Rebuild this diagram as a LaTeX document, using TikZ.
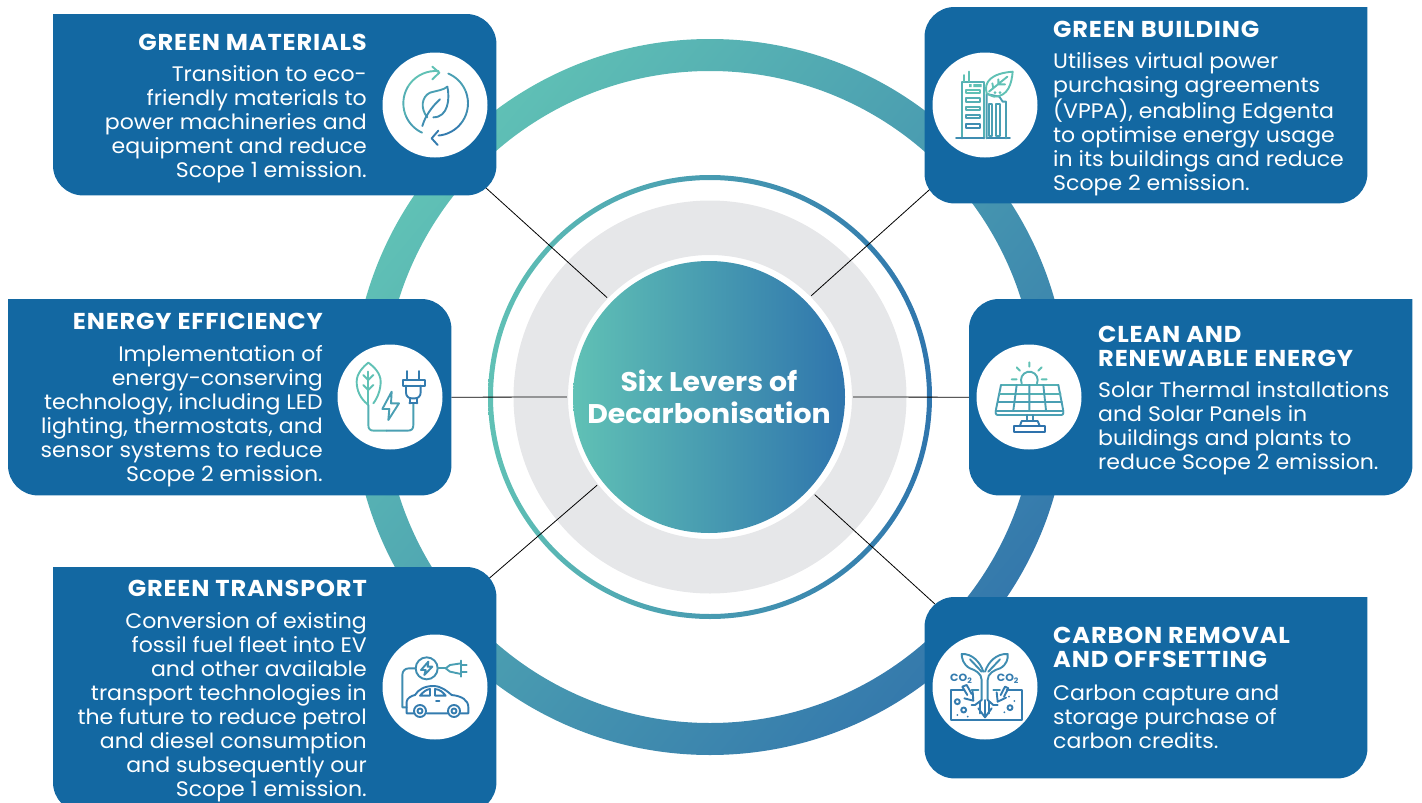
\documentclass[tikz,border=0pt]{standalone}
\usepackage{fontspec}
\setmainfont{Poppins}[FakeStretch=1.05]
\usetikzlibrary{calc}
\definecolor{boxblue}{HTML}{1368A2}
\definecolor{greyring}{HTML}{E6E7E9}
\definecolor{tealc}{HTML}{60C1B5}
\definecolor{bluec}{HTML}{2F75AD}
\definecolor{ringend}{HTML}{3478AC}
\definecolor{iA}{HTML}{60C1B5}
\definecolor{iB}{HTML}{55B0B4}
\definecolor{iC}{HTML}{4A9FB3}
\definecolor{iD}{HTML}{3F8DB1}
\definecolor{iE}{HTML}{347CAF}
\definecolor{iF}{HTML}{2E72AC}
\newcommand{\ttlf}{\bfseries\fontsize{23}{24}\selectfont\addfontfeatures{LetterSpace=3.5}}
\newcommand{\fl}{\rule{0pt}{20pt}}
\newcommand{\ringarc}[6]{\draw[icon,#6] plot[domain=#4:#5,samples=10,smooth] ({#1+#3*cos(\x)},{#2-#3*sin(\x)});}
\tikzset{
  leader/.style={draw=black,line width=0.8pt},
  boxanchor/.style={rectangle,inner sep=0pt,anchor=north west},
  boxfill/.style={fill=boxblue,rounded corners=30pt},
  lvtext/.style={text=white,inner sep=0pt,font=\fontsize{21}{24}\selectfont},
  lvright/.style={lvtext,align=right,anchor=north east},
  lvleft/.style={lvtext,align=left,anchor=north west},
  badge/.style={circle,fill=white,minimum size=105pt,inner sep=0pt},
  icon/.style={line width=1.9pt,line cap=round,line join=round},
  zoomed/.style={x=0.33333pt,y=-0.33333pt}
}
\begin{document}
\begin{tikzpicture}[x=1pt,y=-1pt]
\useasboundingbox (0,0) rectangle (1422,803);
\clip (0,0) rectangle (1422,803);
% rings
\shade[even odd rule,left color=tealc,right color=ringend,shading angle=50]
  (710,397) circle[radius=358pt] (710,397) circle[radius=326pt];
\shade[even odd rule,left color=tealc,right color=bluec]
  (710,397) circle[radius=222pt] (710,397) circle[radius=217pt];
\fill[greyring,even odd rule] (710,397) circle[radius=196.5pt] (710,397) circle[radius=142pt];
\node[circle,minimum size=272pt,inner sep=0pt,left color=tealc,right color=bluec,
      text=white,align=center,font=\bfseries\fontsize{27}{32}\selectfont] (disc) at (709,397)
      {Six Levers of\\Decarbonisation};
\node[circle,minimum size=286pt,inner sep=0pt] (hub) at (710,397) {};
% box anchors
\node[boxanchor,minimum width=443pt,minimum height=181pt] (gm) at (53,14) {};
\node[boxanchor,minimum width=442.5pt,minimum height=196pt] (gb) at (924.5,7) {};
\node[boxanchor,minimum width=443pt,minimum height=196pt] (ee) at (8,299) {};
\node[boxanchor,minimum width=443pt,minimum height=196pt] (cr) at (969,299) {};
\node[boxanchor,minimum width=443pt,minimum height=245pt] (gt) at (53,567) {};
\node[boxanchor,minimum width=442.5pt,minimum height=181pt] (co) at (924.5,597) {};
% connectors
\draw[leader] ([shift={(-11,-8)}]gm.south east) -- (hub.136);
\draw[leader] ([shift={(7.5,-16)}]gb.south west) -- (hub.45);
\draw[leader] (ee.east) -- (hub.180);
\draw[leader] (cr.west) -- (hub.0);
\draw[leader] ([shift={(-8,12)}]gt.north east) -- (hub.218);
\draw[leader] ([shift={(11.5,8)}]co.north west) -- (hub.-43);
% boxes
\fill[boxfill] (gm.north west) -- (gm.north east) -- (gm.south east) -- (gm.south west) -- (gm.north west);
\fill[boxfill] (gb.north east) -- (gb.south east) -- (gb.south west) -- (gb.north west) -- (gb.north east);
\fill[boxfill] (ee.north west) -- (ee.north east) -- (ee.south east) -- (ee.south west) -- (ee.north west);
\fill[boxfill] (cr.north east) -- (cr.south east) -- (cr.south west) -- (cr.north west) -- (cr.north east);
\fill[boxfill] (gt.north west) -- (gt.north east) -- (gt.south east) -- (gt.south west) -- (gt.north west);
\fill[boxfill] (co.north east) -- (co.south east) -- (co.south west) -- (co.north west) -- (co.north east);
% badges
\node[badge] (bgm) at (435,105) {};
\node[badge] (bgb) at (985,105) {};
\node[badge] (bee) at (390,397) {};
\node[badge] (bcr) at (1029,397) {};
\node[badge] (bgt) at (435,687) {};
\node[badge] (bco) at (985,687) {};
% texts
\node[lvright] (tgm) at (367,30) {\fl{\ttlf GREEN MATERIALS}\\[7pt]Transition to eco-\\friendly materials to\\power machineries and\\equipment and reduce\\Scope 1 emission.};
\node[lvleft] (tgb) at (1053,17.5) {\fl{\ttlf GREEN BUILDING}\\[6.5pt]Utilises virtual power\\purchasing agreements\\(VPPA), enabling Edgenta\\to optimise energy usage\\in its buildings and reduce\\Scope 2 emission.};
\node[lvright] (tee) at (323,309) {\fl{\ttlf ENERGY EFFICIENCY}\\[8pt]Implementation of\\energy-conserving\\technology, including LED\\lighting, thermostats, and\\sensor systems to reduce\\Scope 2 emission.};
\node[lvleft] (tcr) at (1098,322) {\fl{\ttlf CLEAN AND}\\{\ttlf RENEWABLE ENERGY}\\[7pt]Solar Thermal installations\\and Solar Panels in\\buildings and plants to\\reduce Scope 2 emission.};
\node[lvright] (tgt) at (367,576) {\fl{\ttlf GREEN TRANSPORT}\\[8pt]Conversion of existing\\fossil fuel fleet into EV\\and other available\\transport technologies in\\the future to reduce petrol\\and diesel consumption\\and subsequently our\\Scope 1 emission.};
\node[lvleft] (tco) at (1053,623) {\fl{\ttlf CARBON REMOVAL}\\{\ttlf AND OFFSETTING}\\[9pt]Carbon capture and\\storage purchase of\\carbon credits.};
% icon 1: recycling leaf
\begin{scope}[shift={(370,40)},zoomed]
\ringarc{197}{190}{97}{85}{150}{iA}
\ringarc{197}{190}{97}{150}{205}{iB}
\ringarc{197}{190}{97}{205}{245}{iC}
\draw[icon,iA] (187,80) -- (208,98) -- (187,118);
\ringarc{197}{190}{97}{67}{20}{iC}
\ringarc{197}{190}{97}{20}{-40}{iD}
\ringarc{197}{190}{97}{-40}{-85}{iE}
\draw[icon,iE] (205,272) -- (185,295) -- (203,315);
\draw[icon,iC] (172,232) .. controls (150,205) and (155,170) .. (180,158) .. controls (200,152) and (222,150) .. (232,140);
\draw[icon,iD] (232,140) .. controls (240,175) and (235,232) .. (190,232);
\draw[icon,iD] (157,258) .. controls (165,230) and (185,200) .. (210,178);
\end{scope}
% icon 2: green building
\begin{scope}[shift={(920,40)},zoomed]
\draw[icon,iB] (192,295) -- (192,125) -- (125,125) -- (125,295);
\draw[icon,iA] (147,95) -- (147,125) (133,105) -- (133,125);
\fill[iA] (160,132) rectangle (185,141) (147,132) rectangle (155,141);
\draw[icon,iA] (137,150) rectangle (180,160);
\draw[icon,iB] (137,175) rectangle (180,185);
\draw[icon,iB] (137,200) rectangle (180,210);
\draw[icon,iC] (137,225) rectangle (180,235);
\draw[icon,iD] (137,251) rectangle (180,265);
\draw[icon,iD] (108,295) -- (192,295) (200,295) -- (270,295);
\draw[icon,iC] (200,295) -- (200,162) -- (238,170) -- (248,185) -- (258,185) -- (258,295);
\draw[icon,iC] (207,193) rectangle (217,288);
\draw[icon,iC] (227,193) rectangle (240,288);
\draw[icon,iA] (200,160) .. controls (190,125) and (215,100) .. (278,95) .. controls (275,130) and (265,170) .. (222,170) .. controls (215,168) and (208,165) .. (200,160);
\draw[icon,iA] (207,155) -- (262,110) (235,133) -- (235,118) (220,145) -- (217,130) (235,133) -- (255,133);
\fill[iA] (225,158) circle[radius=1.5pt] (240,158) circle[radius=1.5pt];
\end{scope}
% icon 3: leaf and plug
\begin{scope}[shift={(330,335)},zoomed]
\draw[icon,iA] (113,208) .. controls (90,190) and (80,165) .. (80,140) .. controls (80,115) and (100,95) .. (115,83) .. controls (132,95) and (152,115) .. (152,140) .. controls (152,165) and (142,190) .. (130,205);
\draw[icon,iA] (115,110) -- (115,210);
\draw[icon,iB] (115,210) -- (115,270) .. controls (115,282) and (120,287) .. (132,287) -- (170,287);
\draw[icon,iC] (170,287) -- (232,287) .. controls (245,287) and (250,282) .. (250,270) -- (250,205);
\draw[icon,iA] (100,120) -- (115,135) -- (130,120) (100,150) -- (115,165) -- (130,150);
\draw[icon,iC] (185,170) -- (157,222) -- (178,222) -- (175,255) -- (207,205) -- (183,205) -- cycle;
\draw[icon,iE] (232,108) -- (232,135) (268,108) -- (268,135);
\draw[icon,iE] (220,135) rectangle (285,152);
\draw[icon,iE] (228,152) -- (228,172) .. controls (228,183) and (235,190) .. (245,190) -- (255,190) .. controls (265,190) and (272,183) .. (272,172) -- (272,152);
\draw[icon,iE] (240,190) -- (240,205) (260,190) -- (260,205) (238,205) -- (262,205);
\end{scope}
% icon 4: solar panel
\begin{scope}[shift={(965,335)},zoomed]
\ringarc{193}{135}{25}{-25}{205}{iB}
\draw[icon,iA] (193,82) -- (193,95) (155,97) -- (165,107) (230,97) -- (220,107) (140,133) -- (155,133) (230,133) -- (245,133);
\draw[icon,iB,rounded corners=2pt] (108,150) -- (280,150);
\draw[icon,iC,rounded corners=2pt] (108,150) -- (92,228) -- (92,240) -- (295,240) -- (295,228) -- (280,150);
\draw[icon,iC] (92,228) -- (295,228);
\draw[icon,iB] (103,176) -- (287,176);
\draw[icon,iC] (99,200) -- (291,200);
\draw[icon,iC] (155,150) -- (145,226) (193,150) -- (193,226) (235,150) -- (243,226);
\draw[icon,iD] (185,240) -- (185,258) (203,240) -- (203,258);
\draw[icon,iE] (165,272) -- (170,258) -- (218,258) -- (224,272);
\draw[icon,iF] (148,272) rectangle (240,290);
\end{scope}
% icon 5: electric car
\begin{scope}[shift={(375,630)},zoomed]
\draw[icon,iD] (155,115) circle[radius=11pt];
\draw[icon,iD] (160,95) -- (138,120) -- (152,120) -- (148,135) -- (172,110) -- (158,110) -- cycle;
\draw[icon,iD] (122,115) -- (102,115) .. controls (90,115) and (82,123) .. (82,135) -- (82,232) -- (95,232);
\draw[icon,iC] (188,115) -- (212,115);
\draw[icon,iC] (212,115) -- (225,105) -- (258,100) -- (258,132) -- (225,125) -- cycle;
\draw[icon,iC] (258,92) -- (258,140) (258,105) -- (275,105) (258,125) -- (275,125);
\draw[icon,iE] (117,250) -- (95,250) -- (95,215) .. controls (95,205) and (110,197) .. (120,195) .. controls (130,178) and (150,168) .. (175,168) .. controls (200,168) and (218,185) .. (230,195) .. controls (260,198) and (280,210) .. (280,232) -- (280,250) -- (255,250) (155,250) -- (218,250);
\draw[icon,iE] (135,197) .. controls (145,185) and (155,178) .. (165,177) -- (165,197) -- cycle;
\draw[icon,iE] (180,177) .. controls (195,178) and (205,188) .. (212,197) -- (180,197) -- cycle;
\draw[icon,iE] (183,212) -- (193,212);
\draw[icon,iE] (135,243) circle[radius=6pt] (135,243) circle[radius=2.5pt];
\draw[icon,iE] (237,243) circle[radius=6pt] (237,243) circle[radius=2.5pt];
\end{scope}
% icon 6: carbon removal
\begin{scope}[shift={(925,630)},zoomed]
\draw[icon,iE] (118,180) -- (78,180) -- (78,270) -- (290,270) -- (290,180) -- (245,180);
\draw[icon,iD] (205,180) -- (225,180) (160,180) -- (140,180);
\draw[icon,iD] (170,210) -- (170,150) .. controls (170,130) and (150,120) .. (135,115) .. controls (115,105) and (110,85) .. (110,72) .. controls (140,70) and (165,95) .. (175,125);
\draw[icon,iD] (188,210) -- (188,150) .. controls (188,130) and (208,120) .. (225,115) .. controls (245,105) and (250,85) .. (248,72) .. controls (215,70) and (190,95) .. (180,125);
\draw[icon,iD] (135,88) -- (170,125) (225,88) -- (190,125);
\draw[icon,iE] (170,210) -- (150,225) -- (140,225) (188,210) -- (205,225) -- (218,225) (165,215) -- (165,250) (180,210) -- (180,262) (192,215) -- (192,250) (160,235) -- (180,262) -- (200,235);
\draw[icon,iE] (112,170) -- (127,195) (125,165) -- (140,192) (112,170) -- (125,165);
\draw[icon,iE] (118,205) -- (145,212) -- (143,185);
\draw[icon,iE] (240,170) -- (227,195) (250,175) -- (237,200) (240,170) -- (250,175);
\draw[icon,iE] (215,187) -- (218,215) -- (243,203);
\draw[icon,iE] (97,215) circle[radius=2.5pt] (116,240) circle[radius=2.5pt] (255,233) circle[radius=2.5pt];
\fill[iE] (97,255) circle[radius=1pt] (128,260) circle[radius=1pt] (238,247) circle[radius=1pt] (252,200) circle[radius=1pt] (268,213) circle[radius=1pt];
\node[text=iE,inner sep=0pt,font=\bfseries\fontsize{10.5}{10}\selectfont] (coa) at (108,147) {CO\raisebox{-2pt}{\fontsize{7.5}{7}\selectfont 2}};
\node[text=iE,inner sep=0pt,font=\bfseries\fontsize{10.5}{10}\selectfont] (cob) at (248,147) {CO\raisebox{-2pt}{\fontsize{7.5}{7}\selectfont 2}};
\end{scope}
\end{tikzpicture}
\end{document}
